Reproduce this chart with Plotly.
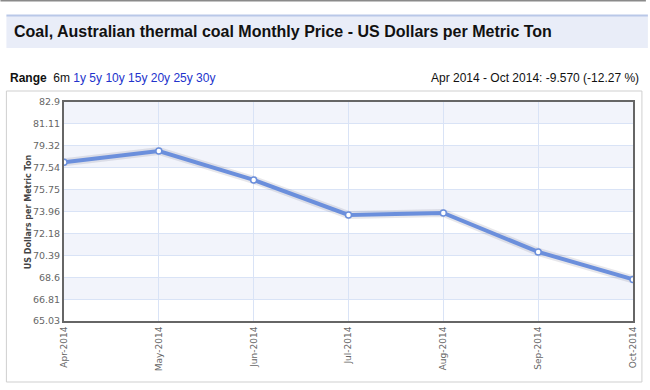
import plotly.graph_objects as go

months = ["Apr-2014", "May-2014", "Jun-2014", "Jul-2014", "Aug-2014", "Sep-2014", "Oct-2014"]
prices = [77.99, 78.90, 76.54, 73.68, 73.85, 70.67, 68.42]
y_ticks = [65.03, 66.81, 68.6, 70.39, 72.18, 73.96, 75.75, 77.54, 79.32, 81.11, 82.9]
y_tick_labels = ["65.03", "66.81", "68.6", "70.39", "72.18", "73.96", "75.75", "77.54", "79.32", "81.11", "82.9"]

W, H = 650, 390
L, R, T, B = 64, 13, 102, 69
PW, PH = W - L - R, H - T - B

def px(x):
    return (x - L) / PW

def py(y):
    return (H - B - y) / PH

fig = go.Figure()

# soft shadow under the line
fig.add_trace(go.Scatter(x=months, y=prices, mode="lines",
                         line=dict(color="rgba(60,60,90,0.12)", width=8),
                         hoverinfo="skip", showlegend=False))
fig.add_trace(go.Scatter(x=months, y=prices, mode="lines+markers",
                         line=dict(color="#6b8fdc", width=4),
                         marker=dict(size=6, color="white", line=dict(color="#6b8fdc", width=1.5)),
                         showlegend=False))

shapes = []
# alternating bands
for i in range(len(y_ticks) - 1):
    if (len(y_ticks) - 2 - i) % 2 == 0:
        shapes.append(dict(type="rect", xref="paper", yref="y", x0=0, x1=1,
                           y0=y_ticks[i], y1=y_ticks[i + 1],
                           fillcolor="#f2f4fb", line=dict(width=0), layer="below"))
# outer box
shapes.append(dict(type="rect", xref="paper", yref="paper",
                   x0=px(6), x1=px(646), y0=py(91), y1=py(382),
                   line=dict(color="#cfcfcf", width=1), fillcolor="rgba(0,0,0,0)", layer="below"))
# title bar
shapes.append(dict(type="rect", xref="paper", yref="paper",
                   x0=px(6), x1=px(652), y0=py(16), y1=py(48),
                   line=dict(width=0), fillcolor="#e9edf8", layer="below"))
shapes.append(dict(type="line", xref="paper", yref="paper",
                   x0=px(6), x1=px(652), y0=py(15.5), y1=py(15.5),
                   line=dict(color="#b9c8e8", width=2)))
# top gray rule
shapes.append(dict(type="line", xref="paper", yref="paper",
                   x0=px(0), x1=px(650), y0=py(0.5), y1=py(0.5),
                   line=dict(color="#8a8a8a", width=2)))

annotations = [
    dict(text="<b>Coal, Australian thermal coal Monthly Price - US Dollars per Metric Ton</b>",
         xref="paper", yref="paper", x=px(12), y=py(32), xanchor="left", yanchor="middle",
         showarrow=False, font=dict(family="Liberation Sans, Arial", size=16, color="#111")),
    dict(text="<b>Range</b>  6m <span style='color:#2233cc'>1y 5y 10y 15y 20y 25y 30y</span>",
         xref="paper", yref="paper", x=px(8), y=py(78), xanchor="left", yanchor="middle",
         showarrow=False, font=dict(family="Liberation Sans, Arial", size=12, color="#111")),
    dict(text="Apr 2014 - Oct 2014: -9.570 (-12.27 %)",
         xref="paper", yref="paper", x=px(645), y=py(78), xanchor="right", yanchor="middle",
         showarrow=False, font=dict(family="Liberation Sans, Arial", size=12, color="#111")),
    dict(text="<b>US Dollars per Metric Ton</b>", textangle=-90,
         xref="paper", yref="paper", x=px(28), y=py(212), xanchor="center", yanchor="middle",
         showarrow=False, font=dict(family="DejaVu Sans, Verdana", size=8, color="#444")),
]

fig.update_layout(
    width=W, height=H,
    margin=dict(l=L, r=R, t=T, b=B),
    paper_bgcolor="white", plot_bgcolor="white",
    shapes=shapes, annotations=annotations,
    xaxis=dict(type="category", range=[0, len(months) - 1], showgrid=True,
               gridcolor="#d9e3f6", gridwidth=1, tickangle=-90,
               tickfont=dict(family="DejaVu Sans, Verdana", size=9, color="#666"),
               showline=True, linecolor="#666", linewidth=2, mirror=True,
               ticks="", zeroline=False, fixedrange=True),
    yaxis=dict(range=[y_ticks[0], y_ticks[-1]], tickvals=y_ticks, ticktext=y_tick_labels,
               showgrid=True, gridcolor="#d9e3f6", gridwidth=1,
               tickfont=dict(family="DejaVu Sans, Verdana", size=9.5, color="#666"),
               showline=True, linecolor="#666", linewidth=2, mirror=True,
               ticks="", zeroline=False, fixedrange=True),
    showlegend=False,
)

fig.write_html("out.html", config={"displayModeBar": False},
               post_script="document.body.style.margin='0';document.body.style.padding='0';document.body.style.overflow='hidden';")
